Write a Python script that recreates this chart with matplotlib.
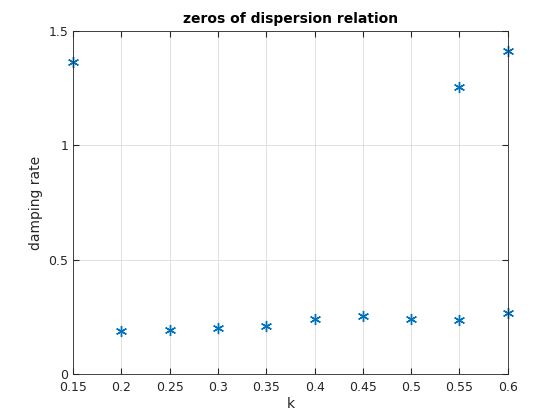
import matplotlib
matplotlib.use("Agg")
import matplotlib.pyplot as plt

k = [0.15, 0.2, 0.25, 0.3, 0.35, 0.4, 0.45, 0.5, 0.55, 0.55, 0.6, 0.6]
damping = [1.364, 0.188, 0.192, 0.201, 0.21, 0.24, 0.254, 0.24, 0.236, 1.255, 0.267, 1.412]
xticks = [0.15, 0.2, 0.25, 0.3, 0.35, 0.4, 0.45, 0.5, 0.55, 0.6]
xticklabels = ["0.15", "0.2", "0.25", "0.3", "0.35", "0.4", "0.45", "0.5", "0.55", "0.6"]
yticks = [0, 0.5, 1, 1.5]
yticklabels = ["0", "0.5", "1", "1.5"]

fig = plt.figure(figsize=(5.58, 4.19), dpi=100)
ax = fig.add_axes([0.131, 0.107, 0.779, 0.819])
ax.plot(k, damping, linestyle="none", marker=(6, 2, 0), color="#0072BD",
        markersize=8, markeredgewidth=1.0, clip_on=False)
ax.set_xlim(0.15, 0.6)
ax.set_ylim(0, 1.5)
ax.set_xticks(xticks)
ax.set_xticklabels(xticklabels)
ax.set_yticks(yticks)
ax.set_yticklabels(yticklabels)
ax.grid(True, color="#dcdcdc", linewidth=0.6)
ax.set_axisbelow(True)
ax.tick_params(direction="in", labelsize=9, colors="#262626", top=True, right=True, length=4)
ax.tick_params(axis="x", pad=5)
for s in ax.spines.values():
    s.set_color("#262626"); s.set_linewidth(0.6)
ax.set_xlabel("k", fontsize=10, color="#262626", labelpad=2)
ax.set_ylabel("damping rate", fontsize=10, color="#262626")
ax.set_title("zeros of dispersion relation", fontsize=10, fontweight="bold")
fig.savefig("out.png", dpi=100)
